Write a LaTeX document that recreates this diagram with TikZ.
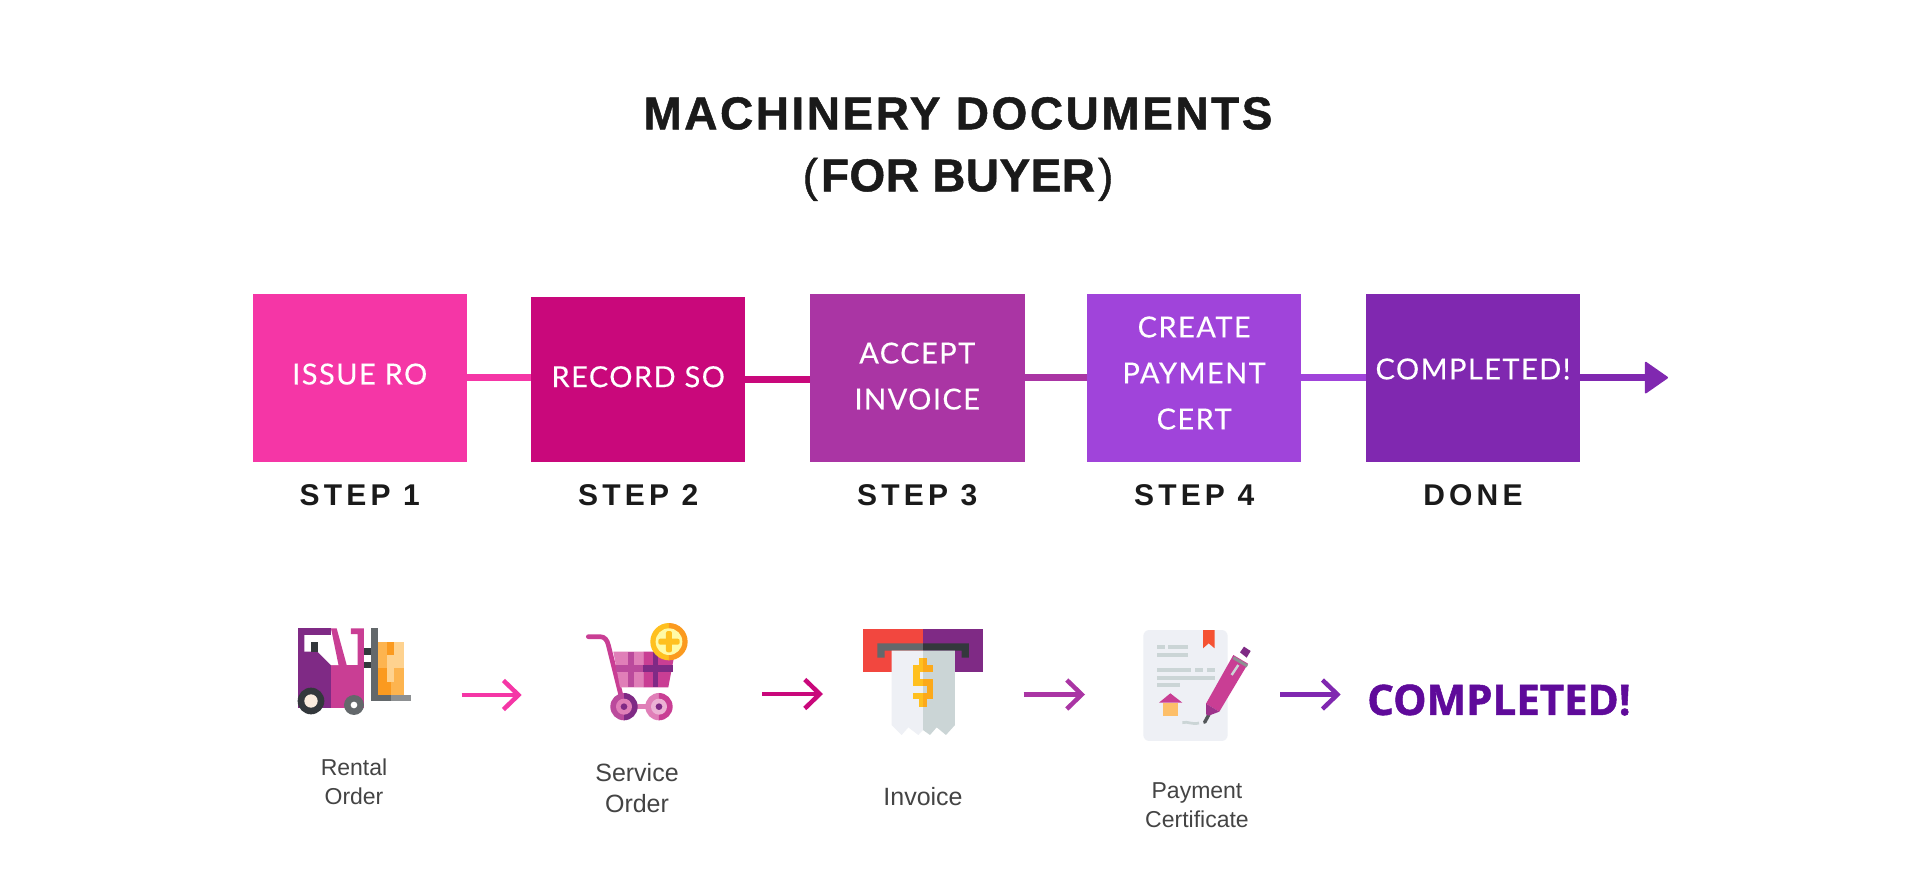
\documentclass[tikz,border=0pt]{standalone}
\usepackage{fontspec}
\usetikzlibrary{positioning,arrows.meta,calc}
\setmainfont{Liberation Sans}
\newfontfamily\titlefont[LetterSpace=5.5,FakeBold=1]{Liberation Sans}
\newfontfamily\titletight[LetterSpace=1,FakeBold=1]{Liberation Sans}
\newfontfamily\boxfont[LetterSpace=5,FakeBold=0.25]{Lato}
\newfontfamily\stepfont[LetterSpace=14]{Liberation Sans}
\newfontfamily\headfont[FakeBold=1.2]{Open Sans}

\definecolor{stepA}{HTML}{F536A6}
\definecolor{stepB}{HTML}{C9087B}
\definecolor{stepC}{HTML}{AA35A4}
\definecolor{stepD}{HTML}{A044DA}
\definecolor{stepE}{HTML}{8028B0}
\definecolor{inkdark}{HTML}{1A1A1A}
\definecolor{inkgrey}{HTML}{444444}
\definecolor{donetext}{HTML}{5F0A9A}
\definecolor{icPurple}{HTML}{7F2A85}
\definecolor{icMagenta}{HTML}{C93E94}
\definecolor{icPink}{HTML}{E07FB8}
\definecolor{icMid}{HTML}{BB4A9C}
\definecolor{icDark}{HTML}{33383C}
\definecolor{icGrey}{HTML}{63686B}
\definecolor{icLight}{HTML}{8D9092}
\definecolor{icOrange}{HTML}{FB9A1F}
\definecolor{icAmber}{HTML}{FDB44F}
\definecolor{icPale}{HTML}{FED28F}
\definecolor{icYellow}{HTML}{FFC01F}
\definecolor{icPaper}{HTML}{EEF0F5}
\definecolor{icPaperB}{HTML}{CBD5D6}
\definecolor{icRed}{HTML}{F2473F}

\tikzset{
  stepbox/.style={inner sep=0, outer sep=0, minimum width=214.5pt, minimum height=168.2pt},
  boxlabel/.style={inner sep=0, outer sep=0, align=center, text=white, font=\boxfont\fontsize{29}{46}\selectfont},
  steplabel/.style={inner sep=0, outer sep=0, text=inkdark, font=\stepfont\bfseries\fontsize{30}{36}\selectfont},
  steplink/.style={line width=7pt},
  doclabel/.style={inner sep=0, outer sep=0, align=center, text=inkgrey, font=\fontsize{23}{29}\selectfont},
  doclabelbig/.style={doclabel, font=\fontsize{25}{30.5}\selectfont},
  docarrow/.style={line width=4.5pt, -{Straight Barb[length=15pt,width=29pt,line width=4.5pt,sharp]}},
}

\begin{document}
\begin{tikzpicture}[x=1pt,y=-1pt]
  \fill [white] (0,0) rectangle (1920,883);
  \useasboundingbox (0,0) rectangle (1920,883);

  \node [inner sep=0, outer sep=0, align=center, text=inkdark, font=\titlefont\bfseries\fontsize{46}{62}\selectfont] (title) at (958,149)
    {MACHINERY DOCUMENTS\\{\titletight\mdseries(\hspace{3pt}\bfseries FOR BUYER\hspace{3pt}\mdseries)}};

  % step boxes
  \node [stepbox, fill=stepA] (box1) at (359.75,377.6) {};
  \node [stepbox, fill=stepB, minimum height=164.7pt] (box2) at (638.2,379.35) {};
  \node [stepbox, fill=stepC] (box3) at (917.25,377.6) {};
  \node [stepbox, fill=stepD] (box4) at (1194.15,377.6) {};
  \node [stepbox, fill=stepE] (box5) at (1473,377.6) {};
  \coordinate (tip) at (1668,377.6);

  \draw [steplink, stepA] (box1.east)--(box1.east-|box2.west);
  \draw [steplink, stepB] (box2.east)--(box2.east-|box3.west);
  \draw [steplink, stepC] (box3.east)--(box3.east-|box4.west);
  \draw [steplink, stepD] (box4.east)--(box4.east-|box5.west);
  \draw [steplink, stepE, -{Triangle[length=24pt,width=33pt,line width=2pt,round]}] (box5.east)--(tip);

  \node [boxlabel, yshift=3.5pt] (lab1) at (box1) {ISSUE RO};
  \node [boxlabel, yshift=2.6pt] (lab2) at (box2) {RECORD SO};
  \node [boxlabel, yshift=1.5pt] (lab3) at (box3) {ACCEPT\\INVOICE};
  \node [boxlabel, yshift=4.6pt] (lab4) at (box4) {CREATE\\PAYMENT\\CERT};
  \node [boxlabel, yshift=8.6pt] (lab5) at (box5) {COMPLETED!};

  \node [steplabel, below=23pt of box1] (step1) {STEP 1};
  \node [steplabel, below=23pt of box2] (step2) {STEP 2};
  \node [steplabel, below=23pt of box3] (step3) {STEP 3};
  \node [steplabel, below=23pt of box4] (step4) {STEP 4};
  \node [steplabel, below=23pt of box5] (step5) {DONE};

  % document row
  \node [doclabel] (doc1) at (354,782) {Rental\\Order};
  \node [doclabelbig] (doc2) at (637,788) {Service\\Order};
  \node [doclabelbig] (doc3) at (923,797) {Invoice};
  \node [doclabel] (doc4) at (1197,805) {Payment\\Certificate};
  \node [inner sep=0, outer sep=0, text=donetext, font=\headfont\bfseries\fontsize{42}{50}\selectfont] (done) at (1499,700) {COMPLETED!};

  \coordinate (a1) at (461.7,695); \coordinate (b1) at (521.7,695);
  \coordinate (a2) at (762,694); \coordinate (b2) at (823,694);
  \coordinate (a3) at (1023.7,694.5); \coordinate (b3) at (1085,694.5);
  \coordinate (a4) at (1280,694.5); \coordinate (b4) at (1340.7,694.5);
  \draw [docarrow, stepA] (a1)--(b1);
  \draw [docarrow, stepB] (a2)--(b2);
  \draw [docarrow, stepC] (a3)--(b3);
  \draw [docarrow, stepE] (a4)--(b4);

  % forklift
  \begin{scope}[shift={(270,610)},x=0.3333pt,y=-0.3333pt]
    \fill [icPurple] (83,55) rectangle (183,293);
    \fill [icMagenta] (183,165) rectangle (282,293);
    \fill [white] (103,75)--(188,75)--(207,165)--(183,165)--(143,125)--(103,125)--cycle;
    \fill [icMagenta] (183,55)--(200,55)--(232,172)--(207,172)--cycle;
    \fill [icMagenta] (243,55)--(282,55)--(282,172)--(263,172)--(263,72)--(243,72)--cycle;
    \fill [icDark] (123,95) rectangle (143,125);
    \fill [icDark] (282,115) rectangle (302,135);
    \fill [icDark] (282,155) rectangle (302,175);
    \fill [icAmber] (323,95) rectangle (362,175);
    \fill [icPale] (362,95) rectangle (402,175);
    \fill [icOrange] (323,175) rectangle (362,255);
    \fill [icAmber] (362,175) rectangle (402,255);
    \fill [icOrange] (352,95) rectangle (372,135);
    \fill [icPale] (352,135) rectangle (372,215);
    \fill [icGrey] (302,55) rectangle (323,273);
    \fill [icGrey] (302,255) rectangle (362,273);
    \fill [icLight] (362,255) rectangle (422,273);
    \fill [icDark] (123,273) circle (40);
    \fill [icPaper!70!orange!40] (123,273) circle (20);
    \fill [icGrey] (252,285) circle (30);
    \fill [white] (252,285) circle (10);
  \end{scope}

  % cart
  \begin{scope}[shift={(560,610)},x=0.3333pt,y=-0.3333pt]
    \draw [icMagenta, line width=4.7pt, line cap=round] (85,80)--(120,80) .. controls (135,80) and (142,92) .. (145,105)--(185,265);
    \fill [icPink] (160,125)--(250,125)--(250,232)--(180,232)--cycle;
    \fill [icMagenta] (250,125)--(345,125)--(325,232)--(250,232)--cycle;
    \fill [icMid] (205,125) rectangle (222,232);
    \fill [icPurple] (278,125) rectangle (295,232);
    \fill [icMid] (167,165) rectangle (250,185);
    \fill [icPurple] (250,165) rectangle (340,185);
    \fill [icPink] (230,283) rectangle (260,297);
    \fill [icMid] (192,249) arc (270:90:41)--cycle;
    \fill [icPurple] (192,249) arc (-90:90:41)--cycle;
    \fill [icPink] (192,290) circle (24);
    \fill [icPurple] (192,290) circle (10);
    \fill [icPink] (297,249) arc (270:90:41)--cycle;
    \fill [icMagenta] (297,249) arc (-90:90:41)--cycle;
    \fill [icPink!60] (297,290) circle (24);
    \fill [icPurple] (297,290) circle (10);
    \fill [icYellow] (327,39) arc (270:90:56)--cycle;
    \fill [icOrange] (327,39) arc (-90:90:56)--cycle;
    \fill [yellow!35!white] (327,95) circle (40);
    \fill [icYellow, rounded corners=2pt] (318,63) rectangle (336,127);
    \fill [icYellow, rounded corners=2pt] (295,86) rectangle (359,104);
  \end{scope}

  % receipt
  \begin{scope}[shift={(840,610)},x=0.3333pt,y=-0.3333pt]
    \fill [icRed] (70,58) rectangle (249,185);
    \fill [icPurple] (249,58) rectangle (428,185);
    \fill [icGrey] (112,100)--(249,100)--(249,122)--(134,122)--(134,143)--(112,143)--cycle;
    \fill [icDark] (387,100)--(249,100)--(249,122)--(365,122)--(365,143)--(387,143)--cycle;
    \fill [icPaper] (155,122)--(249,122)--(249,360)--(235,375)--(205,352)--(185,375)--(155,345)--cycle;
    \fill [icPaperB] (249,122)--(345,122)--(345,345)--(318,375)--(290,352)--(270,375)--(249,360)--cycle;
    \foreach \xa/\ya/\xb/\yb in {238/143/249/165, 218/165/249/186, 218/186/240/207, 218/207/249/228, 218/248/249/268, 238/268/249/290}
      \fill [icYellow] (\xa,\ya) rectangle (\xb,\yb);
    \foreach \xa/\ya/\xb/\yb in {249/143/260/165, 249/165/280/186, 249/207/280/228, 260/228/280/248, 249/248/280/268, 249/268/260/290}
      \fill [icOrange!85!yellow] (\xa,\ya) rectangle (\xb,\yb);
  \end{scope}

  % certificate
  \begin{scope}[shift={(1120,615)},x=0.3333pt,y=-0.3333pt]
    \fill [icPaper, rounded corners=6pt] (70,45) rectangle (323,378);
    \fill [icRed!80!orange] (249,45)--(284,45)--(284,100)--(266,85)--(249,100)--cycle;
    \foreach \xa/\ya/\xb/\yb in {110/90/134/102, 145/90/203/102, 110/113/203/125, 110/160/214/171, 225/160/249/171, 261/160/284/171, 110/183/284/195, 110/205/180/217}
      \fill [icPaperB] (\xa,\ya) rectangle (\xb,\yb);
    \fill [icMagenta] (117,263)--(151,235)--(187,263)--cycle;
    \fill [icAmber!85!white] (128,263) rectangle (174,303);
    \draw [icPaperB, line width=2.7pt] (187,323) .. controls (205,318) and (215,330) .. (237,324);
    \draw [icDark!85, line width=3.4pt, line cap=round] (267,298)--(254,322);
    \fill [icMagenta] (340,120)--(384,146)--(298,290)--(258,266)--cycle;
    \fill [icPurple!60!icMagenta] (258,266)--(298,290)--(266,302)--(258,298)--cycle;
    \fill [icPurple] (360,112)--(372,95)--(392,108)--(380,128)--cycle;
    \draw [icLight, line width=3pt] (340,128)--(382,153);
    \draw [icPaperB, line width=2.4pt] (355,150)--(335,180);
  \end{scope}
\end{tikzpicture}
\end{document}
